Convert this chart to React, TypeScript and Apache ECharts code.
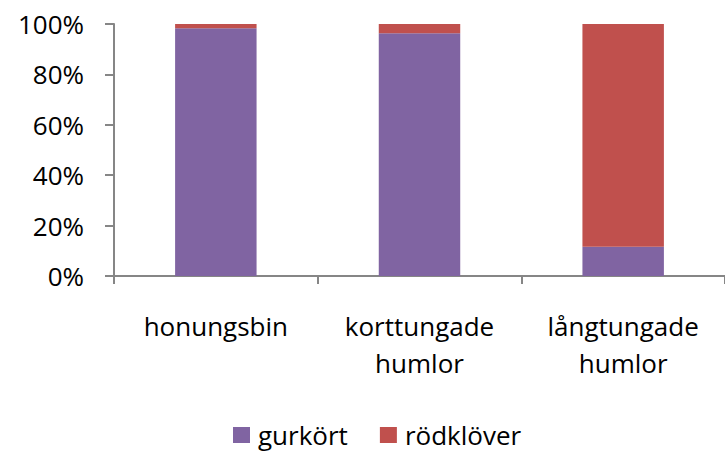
import React, { useEffect, useRef } from "react";
import * as echarts from "echarts";

const categories = ["honungsbin", "korttungade\nhumlor", "långtungade\nhumlor"];
const gurkort = [98.3, 96.3, 11.6];
const rodklover = [1.7, 3.7, 88.4];
const seriesNames = ["gurkört", "rödklöver"];
const colors = ["#8064A2", "#C0504D"];

const FONT = "'Open Sans', sans-serif";

export default function App() {
  const ref = useRef<HTMLDivElement>(null);
  useEffect(() => {
    if (!ref.current) return;
    const chart = echarts.init(ref.current, null, { renderer: "svg" });
    chart.setOption({
      animation: false,
      backgroundColor: "#ffffff",
      textStyle: { fontFamily: FONT },
      grid: { left: 114, top: 24, width: 618, height: 252, containLabel: false },
      legend: {
        bottom: 3,
        left: 228,
        itemWidth: 17,
        itemHeight: 16,
        itemGap: 32,
        icon: "rect",
        textStyle: { fontFamily: FONT, fontSize: 26, color: "#000", padding: [0, 0, 0, 3] },
        data: seriesNames,
      },
      xAxis: {
        type: "category",
        data: categories,
        axisLine: { lineStyle: { color: "#868686", width: 2 } },
        axisTick: { show: true, alignWithLabel: false, length: 8, lineStyle: { color: "#868686", width: 2 } },
        axisLabel: {
          fontFamily: FONT,
          fontSize: 26,
          color: "#000",
          lineHeight: 37,
          margin: 31,
          interval: 0,
        },
      },
      yAxis: {
        type: "value",
        min: 0,
        max: 100,
        interval: 20,
        axisLine: { show: true, lineStyle: { color: "#868686", width: 2 } },
        axisTick: { show: true, length: 9, lineStyle: { color: "#868686", width: 2 } },
        splitLine: { show: false },
        axisLabel: {
          fontFamily: FONT,
          fontSize: 26,
          color: "#000",
          margin: 30,
          formatter: "{value}%",
        },
      },
      series: [
        {
          name: seriesNames[0],
          type: "bar",
          stack: "total",
          barWidth: "40%",
          itemStyle: { color: colors[0] },
          data: gurkort,
        },
        {
          name: seriesNames[1],
          type: "bar",
          stack: "total",
          barWidth: "40%",
          itemStyle: { color: colors[1] },
          data: rodklover,
        },
      ],
    });
    return () => chart.dispose();
  }, []);
  return (
    <div
      ref={ref}
      style={{ position: "fixed", left: 0, top: 0, width: 725, height: 456 }}
    />
  );
}
